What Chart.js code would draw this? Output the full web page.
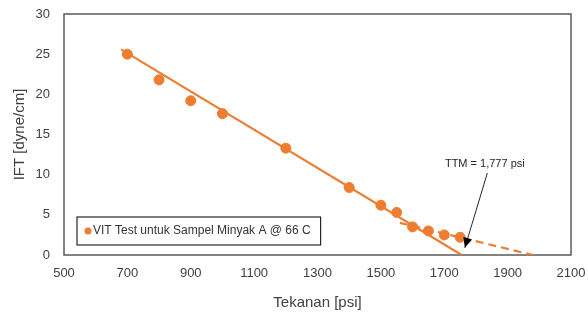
<!DOCTYPE html>
<html>
<head>
  <meta charset="UTF-8">
  <title>IFT vs Tekanan</title>
  <style>
    html, body { margin: 0; padding: 0; background: #fff; }
    #chartBox { width: 588px; height: 320px; }
  </style>
</head>
<body>
  <div id="chartBox"><canvas id="iftChart" width="588" height="320"></canvas></div>

  <script src="https://cdn.jsdelivr.net/npm/chart.js"></script>
  <script>
    const pressure = [700, 800, 900, 1000, 1200, 1400, 1500, 1550, 1600, 1650, 1700, 1750];
    const ift = [25.0, 21.8, 19.2, 17.6, 13.3, 8.4, 6.2, 5.3, 3.5, 3.0, 2.5, 2.2];

    // solid trend line and dashed tail line (end points)
    const trendX = [680, 1755];
    const trendY = [25.6, 0];
    const tailX = [1560, 1980];
    const tailY = [4.0, 0];

    const seriesLabel = "VIT Test untuk Sampel Minyak A @ 66 C";
    const ttmText = "TTM = 1,777 psi";
    const ttmTextAt = [1828, 11.3];
    const ttmArrowFrom = [1836, 10.2];
    const ttmArrowTo = [1765, 0.9];

    const orange = "#ED7D31";
    const axisGrey = "#595959";
    const textGrey = "#404040";
    const fontFamily = "Arial, 'Liberation Sans', sans-serif";

    const toXY = (xs, ys) => xs.map((x, i) => ({ x: x, y: ys[i] }));

    // plot frame + legend box + TTM annotation
    const extras = {
      id: "extras",
      beforeDatasetsDraw(chart) {
        const { ctx, chartArea: a } = chart;
        ctx.save();
        ctx.strokeStyle = axisGrey;
        ctx.lineWidth = 1.5;
        ctx.strokeRect(a.left, a.top, a.right - a.left, a.bottom - a.top);
        ctx.restore();
      },
      afterDatasetsDraw(chart) {
        const { ctx, chartArea: a, scales } = chart;
        const px = (v) => scales.x.getPixelForValue(v);
        const py = (v) => scales.y.getPixelForValue(v);

        // legend
        ctx.save();
        ctx.font = "12px " + fontFamily;
        const tw = ctx.measureText(seriesLabel).width;
        const bx = a.left + 13, by = a.bottom - 38, bh = 28;
        const bw = tw + 26;
        ctx.fillStyle = "#fff";
        ctx.fillRect(bx, by, bw, bh);
        ctx.strokeStyle = "#262626";
        ctx.lineWidth = 1.2;
        ctx.strokeRect(bx, by, bw, bh);
        ctx.fillStyle = orange;
        ctx.beginPath();
        ctx.arc(bx + 11, by + bh / 2, 3.5, 0, Math.PI * 2);
        ctx.fill();
        ctx.fillStyle = "#333";
        ctx.textBaseline = "middle";
        ctx.fillText(seriesLabel, bx + 16, by + bh / 2);

        // TTM arrow
        const x0 = px(ttmArrowFrom[0]), y0 = py(ttmArrowFrom[1]);
        const x1 = px(ttmArrowTo[0]), y1 = py(ttmArrowTo[1]);
        ctx.strokeStyle = "#262626";
        ctx.lineWidth = 1;
        ctx.beginPath();
        ctx.moveTo(x0, y0);
        ctx.lineTo(x1, y1);
        ctx.stroke();
        const ang = Math.atan2(y1 - y0, x1 - x0);
        const len = 10, wid = 4.5;
        ctx.fillStyle = "#000";
        ctx.beginPath();
        ctx.moveTo(x1, y1);
        ctx.lineTo(x1 - len * Math.cos(ang) + wid * Math.sin(ang), y1 - len * Math.sin(ang) - wid * Math.cos(ang));
        ctx.lineTo(x1 - len * Math.cos(ang) - wid * Math.sin(ang), y1 - len * Math.sin(ang) + wid * Math.cos(ang));
        ctx.closePath();
        ctx.fill();

        ctx.font = "11px " + fontFamily;
        ctx.fillStyle = "#262626";
        ctx.textAlign = "center";
        ctx.fillText(ttmText, px(ttmTextAt[0]), py(ttmTextAt[1]));
        ctx.restore();
      },
    };

    new Chart(document.getElementById("iftChart").getContext("2d"), {
      type: "scatter",
      data: {
        datasets: [
          {
            label: seriesLabel,
            data: toXY(pressure, ift),
            backgroundColor: orange,
            borderColor: orange,
            pointRadius: 5,
            pointHoverRadius: 5,
            order: 0,
          },
          {
            label: "trend",
            data: toXY(trendX, trendY),
            showLine: true,
            borderColor: orange,
            borderWidth: 2.2,
            pointRadius: 0,
            order: 1,
          },
          {
            label: "tail",
            data: toXY(tailX, tailY),
            showLine: true,
            borderColor: orange,
            borderWidth: 2.2,
            borderDash: [8, 5],
            pointRadius: 0,
            order: 1,
          },
        ],
      },
      options: {
        responsive: false,
        animation: false,
        layout: { padding: { left: 0, top: 14, right: 17, bottom: 0 } },
        plugins: {
          legend: { display: false },
          tooltip: { enabled: false },
        },
        scales: {
          x: {
            type: "linear",
            min: 500,
            max: 2100,
            grid: { display: false, drawTicks: false },
            border: { display: false },
            ticks: {
              stepSize: 200,
              padding: 11,
              color: textGrey,
              font: { family: fontFamily, size: 13 },
              callback: (v) => String(v),
            },
            title: {
              display: true,
              text: "Tekanan [psi]",
              color: textGrey,
              font: { family: fontFamily, size: 15 },
              padding: { top: 0, bottom: 8 },
            },
            afterFit(scale) {
              scale.height = 65;
              scale.paddingLeft = 0;
              scale.paddingRight = 0;
            },
          },
          y: {
            min: 0,
            max: 30,
            grid: { display: false, drawTicks: false },
            border: { display: false },
            ticks: {
              stepSize: 5,
              padding: 14,
              color: textGrey,
              font: { family: fontFamily, size: 13 },
              callback: (v) => String(v),
            },
            title: {
              display: true,
              text: "IFT [dyne/cm]",
              color: textGrey,
              font: { family: fontFamily, size: 15 },
              padding: { top: 11, bottom: 0 },
            },
            afterFit(scale) {
              scale.width = 64;
              scale.paddingTop = 0;
              scale.paddingBottom = 0;
            },
          },
        },
      },
      plugins: [extras],
    });
  </script>
</body>
</html>
